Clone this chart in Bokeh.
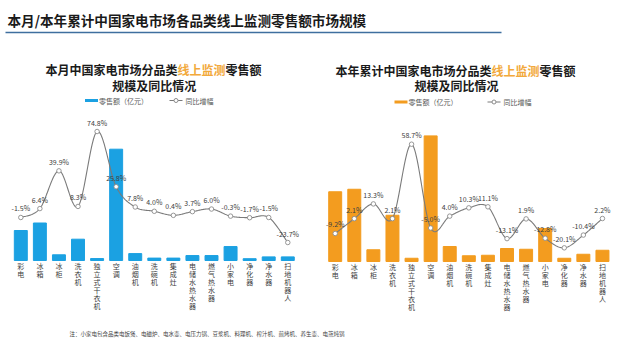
import numpy as np
from bokeh.plotting import figure
from bokeh.models import Range1d, ColumnDataSource, Label
from bokeh.core.properties import value
from bokeh.embed import file_html
from bokeh.resources import INLINE

# ---------------- data ----------------
categories = ["彩电", "冰箱", "冰柜", "洗衣机", "独立式干衣机", "空调", "油烟机", "洗碗机",
              "集成灶", "电储水热水器", "燃气热水器", "小家电", "净化器", "净水器", "扫地机器人"]
month_sales = [20.0, 25.0, 3.8, 14.2, 1.3, 74.2, 4.6, 1.6, 1.6, 3.3, 3.3, 9.3, 1.2, 2.4, 2.4]
month_yoy = [-1.5, 6.4, 39.9, 8.3, 74.8, 25.8, 7.8, 4.0, 0.4, 3.7, 6.0, -0.3, -1.7, -1.5, -23.7]
ytd_sales = [558, 578, 94, 370, 26, 1005, 120, 46, 50, 104, 98, 264, 26, 58, 90]
ytd_yoy = [-9.2, 2.1, 13.3, 2.1, 58.7, -5.0, 4.0, 10.3, 11.1, -13.1, 1.9, -12.8, -20.1, -10.4, 2.2]

main_title = "本月/本年累计中国家电市场各品类线上监测零售额市场规模"
left_title = ["本月中国家电市场分品类", "线上监测", "零售额"]
right_title = ["本年累计中国家电市场分品类", "线上监测", "零售额"]
sub_title2 = "规模及同比情况"
legend_bar = "零售额（亿元）"
legend_line = "同比增幅"
note = "注：小家电包含品类电饭煲、电磁炉、电水壶、电压力锅、豆浆机、料理机、榨汁机、煎烤机、养生壶、电蒸炖锅"

# ---------------- style / layout ----------------
W, H = 624, 344
FONT_NAME = "Noto Sans CJK SC"
FONT = value(FONT_NAME)
BLUE = "#1ba1e2"
ORANGE = "#f39c1f"
HILITE = "#f2a93b"
TXT = "#404040"
OFF = -1  # screen offset sign for glyph y_offset (positive = up when OFF=-1)


def rng(zero_px, px_per_unit, length):
    return Range1d(-zero_px / px_per_unit, (length - zero_px) / px_per_unit)


def py(abs_y):  # page y (from bottom) for an absolute window y
    return 352 - abs_y


def px(abs_x):
    return abs_x - 8


p = figure(width=W, height=H, x_range=Range1d(0, W), y_range=Range1d(0, H),
           output_backend="svg", toolbar_location=None, min_border=0,
           x_axis_location=None, y_axis_location=None)
p.grid.visible = False
p.outline_line_color = None
p.background_fill_color = "white"
p.border_fill_color = "white"

p.extra_x_ranges = {
    "lx": rng(10.77, 19.07, W),
    "rx": rng(325.15, 19.09, W),
}
p.extra_y_ranges = {
    "lb": rng(84, 1.5, H),
    "ll": rng(py(223.3), 1.127, H),
    "rb": rng(83, 0.125, H),
    "rl": rng(py(228.9), 1.315, H),
}


def smooth(xs, ys, n=24):
    P = np.column_stack([xs, ys]).astype(float)
    P = np.vstack([P[0], P, P[-1]])
    out = []
    for i in range(1, len(P) - 2):
        p0, p1, p2, p3 = P[i - 1], P[i], P[i + 1], P[i + 2]
        t = np.linspace(0, 1, n, endpoint=(i == len(P) - 3))[:, None]
        seg = 0.5 * (2 * p1 + (-p0 + p2) * t + (2 * p0 - 5 * p1 + 4 * p2 - p3) * t ** 2
                     + (-p0 + 3 * p1 - 3 * p2 + p3) * t ** 3)
        out.append(seg)
    out = np.vstack(out)
    return out[:, 0], out[:, 1]


def chart(xr, br, lr, sales, yoy, color):
    xs = [i + 0.5 for i in range(len(categories))]
    src = ColumnDataSource(dict(x=xs, sales=sales, yoy=yoy,
                                lab=[f"{v:.1f}%" for v in yoy]))
    p.vbar(x="x", top="sales", bottom=0, width=0.68, source=src, color=color,
           x_range_name=xr, y_range_name=br)
    sx, sy = smooth(xs, yoy)
    p.line(sx, sy, line_color="#7a7a7a", line_width=1.1, x_range_name=xr, y_range_name=lr)
    p.scatter(x="x", y="yoy", source=src, size=4.5, fill_color="white",
              line_color="#8c8c8c", line_width=0.9, x_range_name=xr, y_range_name=lr)
    p.text(x="x", y="yoy", text="lab", source=src, x_range_name=xr, y_range_name=lr,
           y_offset=OFF * 9, text_align="center", text_baseline="middle",
           text_font=FONT, text_font_size="7px", text_color=TXT)
    # vertical category labels (one character per row)
    cx, cy, ct, co = [], [], [], []
    for i, c in enumerate(categories):
        for k, ch in enumerate(c):
            cx.append(i + 0.5)
            cy.append(0)
            ct.append(ch)
            co.append(-OFF * (5.5 + 8 * k))
    csrc = ColumnDataSource(dict(x=cx, y=cy, t=ct, o=co))
    p.text(x="x", y="y", text="t", y_offset="o", source=csrc, x_range_name=xr,
           y_range_name=br, text_align="center", text_baseline="middle",
           text_font=FONT, text_font_size="7px", text_color=TXT)


chart("lx", "lb", "ll", month_sales, month_yoy, BLUE)
chart("rx", "rb", "rl", ytd_sales, ytd_yoy, ORANGE)


def label(x, y, text, size, color=TXT, bold=False, align="left"):
    p.add_layout(Label(x=x, y=y, text=text, text_font=FONT_NAME, text_font_size=f"{size}px",
                       text_color=color, text_font_style="bold" if bold else "normal",
                       text_align=align, text_baseline="middle"))


# main title + rule
label(px(15), py(27.5), main_title, 13.6, color="#1a1a1a", bold=True)
p.segment(x0=px(13), y0=py(40), x1=px(509), y1=py(40), line_color="#3f6f9f", line_width=1.6)

# sub titles
def subtitle(x0, y, parts, cx2):
    x = x0
    for j, part in enumerate(parts):
        label(px(x), py(y), part, 12, color=HILITE if j == 1 else "#1a1a1a", bold=True)
        x += 12 * len(part)
    label(px(cx2), py(92.5), sub_title2, 12, color="#1a1a1a", bold=True, align="center")


subtitle(53, 76.5, left_title, 161.7)
subtitle(343, 77.5, right_title, 464)

# legends
def legend(x_bar, x_line, y, color):
    p.segment(x0=px(x_bar), y0=py(y), x1=px(x_bar + 13), y1=py(y), line_color=color, line_width=3)
    label(px(x_bar + 14), py(y), legend_bar, 7, color="#595959")
    p.segment(x0=px(x_line), y0=py(y), x1=px(x_line + 13), y1=py(y), line_color="#7a7a7a", line_width=1)
    p.scatter(x=[px(x_line + 6.5)], y=[py(y)], size=4, fill_color="white", line_color="#8c8c8c")
    label(px(x_line + 16), py(y), legend_line, 7, color="#595959")


legend(92.5, 177, 108, BLUE)
legend(402, 495, 109.5, ORANGE)

# note
label(px(77), py(341.7), note, 5.5, color="#404040")

open("out.html", "w").write(file_html(p, INLINE))
